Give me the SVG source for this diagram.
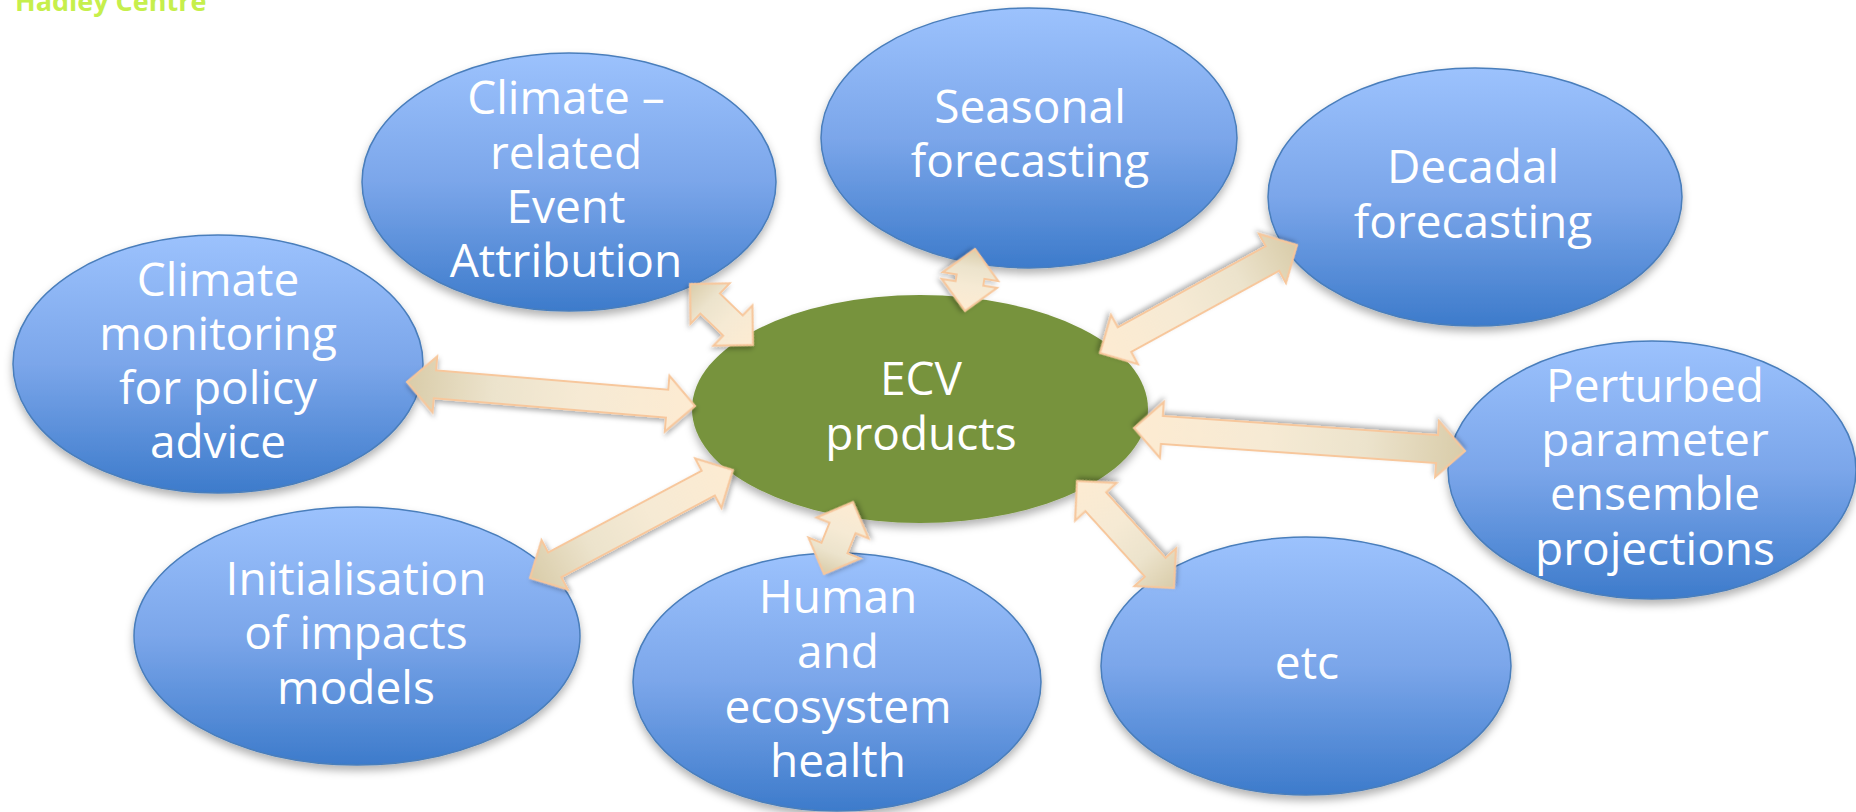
<svg xmlns="http://www.w3.org/2000/svg" width="1856" height="812" viewBox="0 0 1856 812">
<defs>
<linearGradient id="blueGrad" x1="0" y1="0" x2="0" y2="1">
<stop offset="0" stop-color="#9cc2fd"/>
<stop offset="0.5" stop-color="#7ba6ea"/>
<stop offset="1" stop-color="#3d7bcb"/>
</linearGradient>
<linearGradient id="arrowGrad" x1="0" y1="0" x2="1" y2="0">
<stop offset="0" stop-color="#d9cca9"/>
<stop offset="0.3" stop-color="#ece3cc"/>
<stop offset="0.6" stop-color="#f6ead4"/>
<stop offset="1" stop-color="#fdebd2"/>
</linearGradient>
<filter id="shadow" x="-20%" y="-20%" width="140%" height="150%">
<feDropShadow dx="0" dy="5" stdDeviation="4" flood-color="#000" flood-opacity="0.3"/>
</filter>
<filter id="ashadow" x="-30%" y="-50%" width="160%" height="200%">
<feDropShadow dx="1" dy="3" stdDeviation="2.5" flood-color="#000" flood-opacity="0.3"/>
</filter>
</defs>
<style>
.node ellipse.blue { fill: url(#blueGrad); stroke: #4a7ebb; stroke-width: 1.5; filter: url(#shadow); }
.node ellipse.green { fill: #77933c; filter: url(#shadow); }
.node text { font-family: "Open Sans", "Liberation Sans", sans-serif; font-size: 46px; fill: #ffffff; text-anchor: middle; }
.arrow { fill: url(#arrowGrad); stroke: #f7c79c; stroke-width: 2; stroke-linejoin: miter; filter: url(#ashadow); }
.brand { font-family: "Open Sans", "Liberation Sans", sans-serif; font-size: 27px; font-weight: bold; fill: #c6ef4c; }
</style>
<rect width="1856" height="812" fill="#ffffff"/>
<text class="brand" x="15" y="11">Hadley Centre</text>

<g id="node-monitoring" class="node">
<ellipse class="blue" cx="218" cy="364" rx="205" ry="129"/>
<text x="218" y="296">Climate</text>
<text x="218" y="350">monitoring</text>
<text x="218" y="404">for policy</text>
<text x="218" y="458">advice</text>
</g>
<g id="node-attribution" class="node">
<ellipse class="blue" cx="569" cy="182" rx="207" ry="129"/>
<text x="566" y="114">Climate –</text>
<text x="566" y="169">related</text>
<text x="566" y="223">Event</text>
<text x="566" y="277">Attribution</text>
</g>
<g id="node-seasonal" class="node">
<ellipse class="blue" cx="1029" cy="138" rx="208" ry="130"/>
<text x="1030" y="123">Seasonal</text>
<text x="1030" y="177">forecasting</text>
</g>
<g id="node-decadal" class="node">
<ellipse class="blue" cx="1475" cy="197" rx="207" ry="129"/>
<text x="1473" y="183">Decadal</text>
<text x="1473" y="238">forecasting</text>
</g>
<g id="node-perturbed" class="node">
<ellipse class="blue" cx="1652" cy="470" rx="204" ry="129"/>
<text x="1655" y="402">Perturbed</text>
<text x="1655" y="456">parameter</text>
<text x="1655" y="510">ensemble</text>
<text x="1655" y="565">projections</text>
</g>
<g id="node-etc" class="node">
<ellipse class="blue" cx="1306" cy="666" rx="205" ry="129"/>
<text x="1307" y="679">etc</text>
</g>
<g id="node-human" class="node">
<ellipse class="blue" cx="837" cy="682" rx="204" ry="129"/>
<text x="838" y="613">Human</text>
<text x="838" y="668">and</text>
<text x="838" y="723">ecosystem</text>
<text x="838" y="777">health</text>
</g>
<g id="node-init" class="node">
<ellipse class="blue" cx="357" cy="636" rx="223" ry="129"/>
<text x="356" y="595">Initialisation</text>
<text x="356" y="649">of impacts</text>
<text x="356" y="704">models</text>
</g>
<g id="node-ecv" class="node">
<ellipse class="green" cx="920" cy="409" rx="228" ry="114"/>
<text x="921" y="395">ECV</text>
<text x="921" y="450">products</text>
</g>

<g id="connectors">
<path class="arrow" transform="translate(407,382) rotate(4.76)" d="M0,0 L28,-28 L28,-14 L261,-14 L261,-28 L289,0 L261,28 L261,14 L28,14 L28,28 Z"/>
<path class="arrow" transform="translate(690,284) rotate(44.07)" d="M0,0 L28,-28 L28,-14 L59.7,-14 L59.7,-28 L87.7,0 L59.7,28 L59.7,14 L28,14 L28,28 Z"/>
<path class="arrow" transform="translate(975,249) rotate(99.16)" d="M0,0 L28,-28 L28,-14 L34.8,-14 L34.8,-28 L62.8,0 L34.8,28 L34.8,14 L28,14 L28,28 Z"/>
<path class="arrow" transform="translate(1297,245) rotate(151.26)" d="M0,0 L28,-28 L28,-14 L196.7,-14 L196.7,-28 L224.7,0 L196.7,28 L196.7,14 L28,14 L28,28 Z"/>
<path class="arrow" transform="translate(1465,451) rotate(-176.03)" d="M0,0 L28,-28 L28,-14 L303.8,-14 L303.8,-28 L331.8,0 L303.8,28 L303.8,14 L28,14 L28,28 Z"/>
<path class="arrow" transform="translate(1174,588) rotate(-132.2)" d="M0,0 L28,-28 L28,-14 L116.4,-14 L116.4,-28 L144.4,0 L116.4,28 L116.4,14 L28,14 L28,28 Z"/>
<path class="arrow" transform="translate(824,574) rotate(-68.06)" d="M0,0 L28,-28 L28,-14 L49.6,-14 L49.6,-28 L77.6,0 L49.6,28 L49.6,14 L28,14 L28,28 Z"/>
<path class="arrow" transform="translate(530,578) rotate(-28.02)" d="M0,0 L28,-28 L28,-14 L201.9,-14 L201.9,-28 L229.9,0 L201.9,28 L201.9,14 L28,14 L28,28 Z"/>
</g>
</svg>
